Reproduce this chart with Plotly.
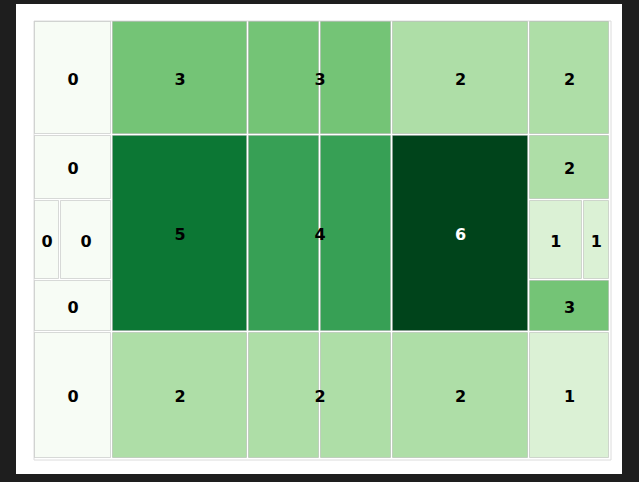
import plotly.graph_objects as go
from plotly.colors import sequential, sample_colorscale

# ---- data (weights) ----
col_widths = [78, 136, 144, 137, 81]          # relative column widths
row_heights = [114, 197, 127]                 # relative row heights, top to bottom
values = [                                    # None = cell split into sub-cells
    [0, 3, 3, 2, 2],
    [None, 5, 4, 6, None],
    [0, 2, 2, 2, 1],
]
band_heights = [65, 80, 52]                   # sub-bands of the split middle cells
col1_mid_values = [[0], [0, 0], [0]]
col1_mid_widths = [[1], [26, 52], [1]]
col5_mid_values = [[2], [1, 1], [3]]
col5_mid_widths = [[1], [53, 27], [1]]
col3_parts = [1, 1]                           # third column drawn as two halves

VMIN, VMAX = 0, 6
GAP = 2
TEXT_DY = -2.5
scale = sequential.Greens


def color_of(v):
    return sample_colorscale(scale, [(v - VMIN) / (VMAX - VMIN)])[0]


W = sum(col_widths)
H = sum(row_heights)
col_x0 = [sum(col_widths[:j]) for j in range(len(col_widths))]
row_top = [H - sum(row_heights[:i]) for i in range(len(row_heights))]

rects = []   # (x0, x1, y0, y1, value)
labels = []  # (x, y, value)


def add_cell(x0, x1, y0, y1, v, parts=None):
    if parts:
        tot = sum(parts)
        cx = x0
        for p in parts:
            w = (x1 - x0) * p / tot
            rects.append((cx, cx + w, y0, y1, v))
            cx += w
    else:
        rects.append((x0, x1, y0, y1, v))
    labels.append(((x0 + x1) / 2, (y0 + y1) / 2, v))


for i, row in enumerate(values):
    yt = row_top[i]
    yb = yt - row_heights[i]
    for j, v in enumerate(row):
        x0 = col_x0[j]
        x1 = x0 + col_widths[j]
        if v is not None:
            add_cell(x0, x1, yb, yt, v, parts=col3_parts if j == 2 else None)
        else:
            bv = col1_mid_values if j == 0 else col5_mid_values
            bw = col1_mid_widths if j == 0 else col5_mid_widths
            tot_h = sum(band_heights)
            cy = yt
            for k, bh in enumerate(band_heights):
                h = row_heights[i] * bh / tot_h
                tot_w = sum(bw[k])
                cx = x0
                for vv, ww in zip(bv[k], bw[k]):
                    w = (x1 - x0) * ww / tot_w
                    add_cell(cx, cx + w, cy - h, cy, vv)
                    cx += w
                cy -= h

fig = go.Figure()
fig.add_trace(go.Bar(
    x=[(r[0] + r[1]) / 2 for r in rects],
    width=[r[1] - r[0] - GAP for r in rects],
    base=[r[2] + GAP / 2 for r in rects],
    y=[r[3] - r[2] - GAP for r in rects],
    marker=dict(color=[color_of(r[4]) for r in rects],
                line=dict(color="rgba(150,150,150,0.35)", width=1)),
    hoverinfo="skip",
    showlegend=False,
))
fig.add_trace(go.Scatter(
    x=[l[0] for l in labels],
    y=[l[1] + TEXT_DY for l in labels],
    text=[str(l[2]) for l in labels],
    mode="text",
    textfont=dict(family="DejaVu Sans", size=16, weight="bold",
                  color=["white" if l[2] >= 5.5 else "black" for l in labels]),
    hoverinfo="skip",
    showlegend=False,
))
fig.add_shape(type="rect", xref="x", yref="y", x0=0, x1=W + 1, y0=-1, y1=H,
              line=dict(color="#dcdcdc", width=1), layer="below")

fig.update_layout(
    width=639, height=482,
    margin=dict(l=16, r=17, t=4, b=8),
    paper_bgcolor="#1e1e1e",
    plot_bgcolor="white",
    barmode="overlay",
    bargap=0,
    xaxis=dict(range=[-18, W + 12], visible=False, fixedrange=True),
    yaxis=dict(range=[-15, H + 17], visible=False, fixedrange=True),
)

fig.write_html("out.html", config={"displayModeBar": False},
               post_script="document.body.style.margin='0';")
